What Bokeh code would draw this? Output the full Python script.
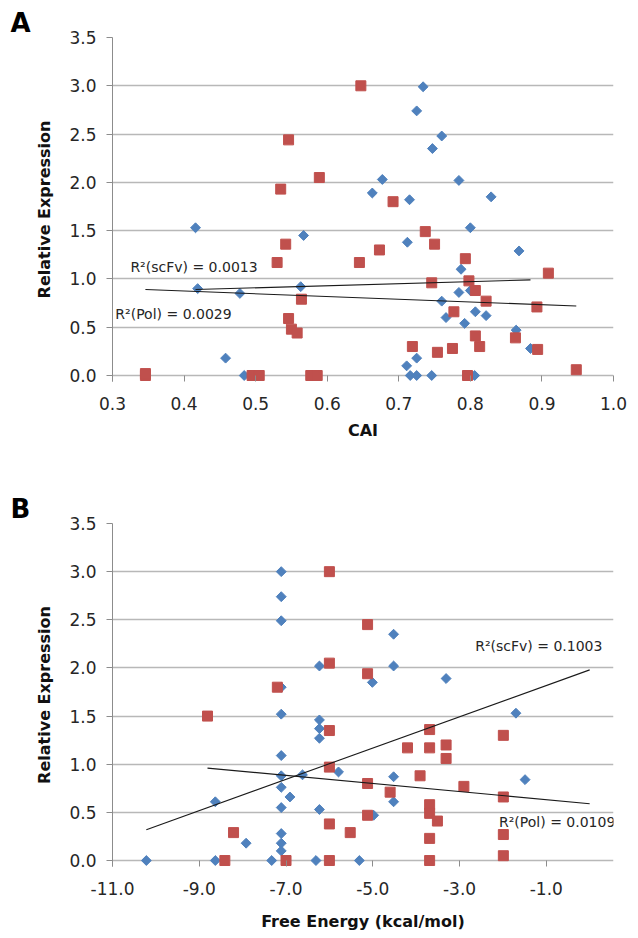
from bokeh.plotting import figure
from bokeh.layouts import column
from bokeh.models import Range1d, FixedTicker, NumeralTickFormatter, Label
from bokeh.embed import file_html
from bokeh.resources import INLINE
import math

# ---------------- data ----------------
y_ticks = [0.0, 0.5, 1.0, 1.5, 2.0, 2.5, 3.0, 3.5]
a_x_ticks = [0.3, 0.4, 0.5, 0.6, 0.7, 0.8, 0.9, 1.0]
b_x_ticks = [-11, -9, -7, -5, -3, -1]

# Panel A: CAI vs relative expression
a_scfv_x = [0.416, 0.419, 0.478, 0.458, 0.484, 0.567, 0.563, 0.734, 0.725, 0.760,
            0.747, 0.677, 0.663, 0.715, 0.784, 0.829, 0.800, 0.712, 0.868, 0.787,
            0.784, 0.760, 0.766, 0.807, 0.822, 0.792, 0.864, 0.884, 0.725, 0.711,
            0.716, 0.725, 0.746, 0.806, 0.800]
a_scfv_y = [1.53, 0.90, 0.85, 0.18, 0.00, 1.45, 0.92, 2.99, 2.74, 2.48,
            2.35, 2.03, 1.89, 1.82, 2.02, 1.85, 1.53, 1.38, 1.29, 1.10,
            0.86, 0.77, 0.60, 0.66, 0.62, 0.54, 0.47, 0.28, 0.18, 0.10,
            0.00, 0.00, 0.00, 0.00, 0.88]
a_pol_x = [0.346, 0.346, 0.495, 0.505, 0.577, 0.586, 0.546, 0.535, 0.589, 0.542,
           0.530, 0.564, 0.546, 0.550, 0.558, 0.647, 0.645, 0.692, 0.673, 0.737,
           0.750, 0.793, 0.798, 0.746, 0.807, 0.822, 0.909, 0.893, 0.777, 0.807,
           0.813, 0.863, 0.894, 0.719, 0.754, 0.775, 0.796, 0.948]
a_pol_y = [0.00, 0.02, 0.00, 0.00, 0.00, 0.00, 2.44, 1.93, 2.05, 1.36,
           1.17, 0.79, 0.59, 0.48, 0.44, 3.00, 1.17, 1.80, 1.30, 1.49,
           1.36, 1.21, 0.98, 0.96, 0.88, 0.77, 1.06, 0.71, 0.66, 0.41,
           0.30, 0.39, 0.27, 0.30, 0.24, 0.28, 0.00, 0.06]
a_trend_scfv_x = [0.416, 0.884]
a_trend_scfv_y = [0.89, 0.99]
a_trend_pol_x = [0.346, 0.948]
a_trend_pol_y = [0.89, 0.72]
a_r2_scfv = "R²(scFv) = 0.0013"
a_r2_pol = "R²(Pol) = 0.0029"

# Panel B: free energy vs relative expression
b_scfv_x = [-10.22, -8.63, -8.63, -7.92, -7.11, -7.11, -7.11, -7.11, -7.11, -7.11,
            -7.11, -7.11, -6.91, -7.11, -7.11, -7.11, -7.11, -7.33, -6.62, -6.23,
            -6.23, -6.23, -6.23, -6.23, -6.31, -5.79, -4.52, -4.52, -5.01, -3.31,
            -1.70, -1.49, -4.52, -4.52, -4.98, -5.31]
b_scfv_y = [0.00, 0.61, 0.00, 0.18, 3.00, 2.74, 2.49, 1.80, 1.52, 1.09,
            0.88, 0.76, 0.66, 0.55, 0.28, 0.18, 0.10, 0.00, 0.89, 2.02,
            1.46, 1.37, 1.27, 0.53, 0.00, 0.92, 2.35, 2.02, 1.85, 1.89,
            1.53, 0.84, 0.87, 0.61, 0.47, 0.00]
b_pol_x = [-8.81, -8.21, -8.41, -7.20, -7.00, -6.00, -6.00, -6.00, -6.00, -6.00,
           -6.00, -5.52, -5.12, -5.12, -5.12, -5.12, -4.60, -3.91, -4.20, -3.69,
           -3.69, -3.69, -3.69, -3.51, -3.69, -3.69, -3.31, -3.31, -2.90, -1.99,
           -1.99, -1.99, -1.99]
b_pol_y = [1.50, 0.29, 0.00, 1.80, 0.00, 3.00, 2.05, 1.35, 0.97, 0.38,
           0.00, 0.29, 2.45, 1.94, 0.80, 0.47, 0.71, 0.88, 1.17, 1.36,
           1.17, 0.58, 0.49, 0.41, 0.23, 0.00, 1.20, 1.06, 0.77, 1.30,
           0.66, 0.27, 0.05]
b_trend_scfv_x = [-10.22, 0.0]
b_trend_scfv_y = [0.32, 1.98]
b_trend_pol_x = [-8.81, 0.0]
b_trend_pol_y = [0.96, 0.59]
b_r2_scfv = "R²(scFv) = 0.1003"
b_r2_pol = "R²(Pol) = 0.0109"

# ---------------- style ----------------
BLUE = "#4F81BD"
RED = "#C0504D"
GRID = "#b8b8b8"
AXIS = "#8c8c8c"
TXT = "#262626"
FONT = "DejaVu Sans"


def make_panel(x_range, x_ticks, x_label, letter, height, top, bottom, right,
               grid_bounds, title_standoff):
    p = figure(width=638, height=height, x_range=x_range,
               y_range=Range1d(-0.062, 3.5),
               output_backend="svg", toolbar_location=None,
               min_border_left=112, min_border_right=right,
               min_border_top=top, min_border_bottom=bottom)
    p.outline_line_color = None
    p.xgrid.visible = False
    p.ygrid.ticker = FixedTicker(ticks=y_ticks)
    p.ygrid.grid_line_color = GRID
    p.ygrid.grid_line_width = 1.3
    p.ygrid.bounds = grid_bounds

    p.title.text = letter
    p.title.align = "left"
    p.title.offset = -102
    p.title.standoff = 0
    p.title.text_font = FONT
    p.title.text_font_size = "26px"
    p.title.text_font_style = "bold"
    p.title.text_color = "#000000"

    p.yaxis.ticker = FixedTicker(ticks=y_ticks)
    p.yaxis.formatter = NumeralTickFormatter(format="0.0")
    p.yaxis.axis_line_color = AXIS
    p.yaxis.major_tick_line_color = AXIS
    p.yaxis.major_tick_out = 6
    p.yaxis.major_tick_in = 0
    p.yaxis.minor_tick_line_color = None
    p.yaxis.major_label_standoff = 10
    p.yaxis.axis_label = "Relative Expression"
    p.yaxis.axis_label_standoff = 12

    p.xaxis.ticker = FixedTicker(ticks=x_ticks)
    p.xaxis.formatter = NumeralTickFormatter(format="0.0")
    p.xaxis.axis_line_color = None
    p.xaxis.major_tick_line_color = AXIS
    p.xaxis.major_tick_in = 6
    p.xaxis.major_tick_out = 0
    p.xaxis.minor_tick_line_color = None
    p.xaxis.major_label_standoff = 15
    p.xaxis.axis_label = x_label
    p.xaxis.axis_label_standoff = title_standoff

    for ax in (p.xaxis, p.yaxis):
        ax.major_label_text_font = FONT
        ax.major_label_text_font_size = "17px"
        ax.major_label_text_color = TXT
        ax.axis_label_text_font = FONT
        ax.axis_label_text_font_size = "16px"
        ax.axis_label_text_font_style = "bold"
        ax.axis_label_text_color = "#111111"
    return p


def add_points(p, sx, sy, px_, py_):
    p.scatter(x=sx, y=sy, marker="square", size=7, angle=math.pi / 4,
              fill_color=BLUE, line_color=BLUE)
    p.scatter(x=px_, y=py_, marker="square", size=10,
              fill_color=RED, line_color=RED)


def add_label(p, x, y, text):
    p.add_layout(Label(x=x, y=y, text=text, text_font=FONT,
                       text_font_size="14px", text_baseline="middle",
                       text_color=TXT))


# Panel A
pa = make_panel(Range1d(0.3, 1.0), a_x_ticks, "CAI", "A", 478, 37, 97, 25,
                (0.3, 1.0), 8)
add_points(pa, a_scfv_x, a_scfv_y, a_pol_x, a_pol_y)
pa.line(a_trend_scfv_x, a_trend_scfv_y, line_color="#1a1a1a", line_width=1.1)
pa.line(a_trend_pol_x, a_trend_pol_y, line_color="#1a1a1a", line_width=1.1)
add_label(pa, 0.325, 1.12, a_r2_scfv)
add_label(pa, 0.304, 0.64, a_r2_pol)

# Panel B (frame runs to the right edge so the R² labels stay visible)
pb = make_panel(Range1d(-11, 0.549), b_x_ticks, "Free Energy (kcal/mol)", "B",
                458, 45, 70, 0, (-11, 0), 14)
add_points(pb, b_scfv_x, b_scfv_y, b_pol_x, b_pol_y)
pb.line(b_trend_scfv_x, b_trend_scfv_y, line_color="#1a1a1a", line_width=1.1)
pb.line(b_trend_pol_x, b_trend_pol_y, line_color="#1a1a1a", line_width=1.1)
add_label(pb, -2.64, 2.23, b_r2_scfv)
add_label(pb, -2.09, 0.405, b_r2_pol)

layout = column(pa, pb)
open("out.html", "w").write(file_html(layout, INLINE))
